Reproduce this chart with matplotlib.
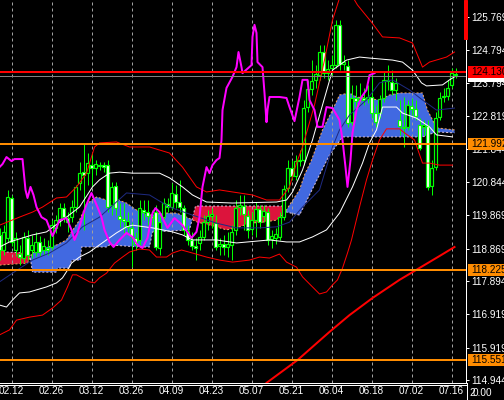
import numpy as np
import matplotlib
matplotlib.use('Agg')
import matplotlib.pyplot as plt
from matplotlib.patches import Rectangle
from matplotlib.lines import Line2D
from matplotlib.transforms import blended_transform_factory

plt.rcParams['font.family'] = ['Liberation Sans', 'DejaVu Sans']

# date labels (one every 10 daily bars)
date_pos = [3, 13, 23, 33, 43, 53, 63, 73, 83, 93, 103, 113]
date_labels = ['02.12', '02.26', '03.12', '03.26', '04.09', '04.23',
               '05.07', '05.21', '06.04', '06.18', '07.02', '07.16']

price_ticks = [125.769, 124.794, 123.794, 122.819, 121.844, 120.844,
               119.869, 118.869, 117.894, 116.919, 115.919, 114.944]

# daily candles
opens = [119.28, 118.83, 119.19, 120.38, 118.83, 118.71, 118.59, 119.19, 118.83, 118.77,
         119.07, 118.83, 118.89, 118.92, 119.49, 119.72, 120.08, 119.78, 119.81, 120.11,
         120.83, 121.15, 121.12, 121.36, 121.27, 121.33, 121.36, 121.36, 120.17, 120.74,
         119.84, 119.75, 119.52, 119.49, 119.19, 119.13, 120.02, 119.96, 119.84, 119.96,
         118.89, 119.81, 120.20, 120.11, 120.50, 120.26, 120.08, 119.40, 119.13, 118.95,
         119.04, 119.22, 119.66, 119.84, 119.63, 118.95, 119.01, 118.92, 118.98, 119.43,
         120.11, 120.14, 119.84, 119.46, 119.72, 120.05, 119.84, 119.96, 119.16, 119.19,
         119.22, 119.81, 120.68, 121.27, 121.04, 121.48, 121.51, 123.09, 123.63, 123.90,
         124.04, 124.73, 124.10, 124.25, 124.34, 125.54, 124.37, 124.31, 122.64, 123.36,
         123.30, 123.36, 123.33, 123.39, 122.91, 122.91, 123.36, 123.87, 123.84, 123.60,
         122.70, 122.50, 122.50, 123.12, 123.03, 122.55, 122.50, 122.52, 120.74, 121.30,
         122.79, 123.39, 123.42, 123.75, 124.04]
highs = [119.49, 119.57, 120.62, 120.47, 119.37, 118.98, 119.37, 119.43, 119.28, 119.37,
         119.25, 119.19, 119.13, 119.72, 119.87, 120.23, 120.23, 119.96, 120.32, 120.77,
         121.45, 122.02, 121.72, 121.72, 121.51, 121.45, 121.45, 121.51, 120.86, 120.86,
         120.23, 120.23, 119.96, 119.66, 119.37, 120.32, 120.32, 120.32, 120.02, 120.17,
         119.87, 120.38, 120.38, 120.83, 120.77, 120.92, 120.17, 119.57, 119.37, 119.19,
         119.43, 119.87, 120.02, 120.08, 119.87, 119.19, 119.28, 119.37, 119.57, 120.32,
         120.47, 120.47, 120.02, 119.96, 120.26, 120.17, 120.17, 120.08, 119.43, 119.49,
         119.96, 120.77, 121.51, 121.51, 121.66, 121.81, 123.30, 123.90, 124.49, 124.34,
         124.94, 124.94, 124.49, 124.64, 125.68, 125.68, 124.64, 124.49, 123.75, 123.75,
         123.81, 123.66, 123.75, 124.13, 123.15, 123.45, 124.13, 124.34, 124.19, 123.96,
         123.30, 123.39, 123.30, 123.36, 123.30, 122.76, 122.70, 122.70, 121.51, 122.94,
         123.54, 123.66, 123.90, 124.25, 124.25]
lows = [118.53, 118.68, 119.07, 118.95, 118.65, 118.38, 118.47, 118.53, 118.59, 118.65,
        118.65, 118.68, 118.68, 118.83, 119.34, 119.55, 119.66, 119.37, 119.66, 119.96,
        120.62, 119.43, 120.77, 120.71, 121.07, 121.21, 121.15, 119.96, 119.87, 119.87,
        119.52, 119.34, 119.37, 118.32, 118.83, 118.98, 119.72, 119.57, 119.57, 118.83,
        118.68, 119.66, 119.96, 120.02, 120.08, 119.96, 119.28, 118.98, 118.83, 118.53,
        118.83, 119.13, 119.43, 119.49, 118.83, 118.68, 118.68, 118.62, 118.53, 119.28,
        119.87, 119.43, 119.19, 119.28, 119.22, 119.49, 119.66, 118.98, 118.89, 119.01,
        119.13, 119.72, 120.56, 120.92, 120.92, 121.33, 121.36, 122.94, 123.45, 123.66,
        123.90, 123.96, 123.90, 124.04, 124.25, 124.19, 124.19, 122.50, 122.55, 123.06,
        123.21, 123.15, 123.21, 122.76, 122.50, 122.76, 123.24, 123.60, 123.45, 123.30,
        122.26, 121.90, 122.41, 122.85, 122.70, 121.81, 122.26, 120.62, 120.47, 121.21,
        122.70, 123.24, 123.30, 123.66, 123.96]
closes = [118.83, 119.37, 120.41, 119.07, 119.19, 118.62, 119.22, 118.68, 118.98, 119.07,
          118.77, 118.95, 118.83, 119.57, 119.72, 120.08, 119.81, 119.66, 120.11, 120.71,
          121.12, 121.07, 121.42, 121.27, 121.39, 121.36, 121.30, 120.11, 120.71, 120.08,
          119.75, 119.69, 119.69, 119.22, 119.01, 120.08, 119.96, 119.84, 119.78, 118.92,
          119.66, 120.23, 120.11, 120.53, 120.26, 120.11, 119.43, 119.13, 118.95, 118.89,
          119.22, 119.66, 119.84, 119.90, 118.92, 119.01, 118.92, 119.01, 119.37, 120.08,
          120.17, 119.90, 119.43, 119.72, 120.05, 119.66, 119.99, 119.13, 119.25, 119.31,
          119.81, 120.65, 121.27, 121.04, 121.48, 121.51, 123.06, 123.63, 123.87, 124.07,
          124.73, 124.10, 124.22, 124.34, 125.54, 124.37, 124.43, 122.61, 123.36, 123.27,
          123.36, 123.30, 123.39, 122.91, 122.64, 123.33, 123.90, 123.90, 123.60, 123.81,
          122.52, 122.47, 123.15, 123.03, 122.82, 121.87, 122.55, 120.71, 121.27, 122.76,
          123.36, 123.42, 123.66, 124.10, 124.05]

# bollinger bands (outer red, inner white, middle navy), read as vertices (bar, price)
bb_up_x = [0, 5, 8.25, 10.75, 14.25, 16.75, 19.25, 21.75, 23.75, 25, 29.25, 32.5, 37.5,
           42.5, 45.75, 49.25, 51.75, 55, 58.25, 63.25, 66.75, 70, 72.5, 74.25, 75.75,
           78.75, 81.25, 83.25, 85.5, 88, 89.5, 93, 95.75, 100, 103.25, 105.75, 107.5,
           111.75, 113.75]
bb_up = [119.57, 119.81, 119.96, 120.11, 120.38, 120.41, 120.71, 121.12, 121.90, 122.02,
         122.05, 121.90, 121.90, 121.72, 121.30, 120.71, 120.56, 120.62, 120.56, 120.47,
         120.32, 120.32, 120.71, 121.42, 121.90, 123.15, 124.49, 125.68, 126.52, 126.43,
         126.13, 125.62, 125.18, 125.15, 125.00, 124.28, 124.43, 124.58, 124.73]

bb_lo_x = [0, 2.5, 4.25, 7.5, 10.75, 13.25, 15.5, 17, 18.25, 19.25, 22.5, 23.75, 25,
           26.75, 28.75, 30.75, 32.5, 35, 37.5, 39.25, 41.75, 43.25, 45.5, 48.25, 51.75,
           55, 58.25, 62.5, 65, 67.5, 70, 71.75, 74.25, 75.75, 78.25, 80, 81.75, 83.25,
           84.5, 85.75, 87, 88, 90, 91.75, 93.25, 95, 96.75, 100, 101.25, 103.75, 105.75,
           107.5, 110, 113.25]
bb_lo = [116.30, 116.45, 116.74, 116.83, 116.89, 117.10, 117.34, 117.73, 118.09, 118.09,
         117.88, 117.85, 118.00, 118.14, 118.44, 118.62, 118.77, 118.86, 118.83, 118.62,
         118.62, 118.74, 118.83, 118.74, 118.62, 118.53, 118.47, 118.53, 118.62, 118.59,
         118.71, 118.47, 118.32, 118.03, 117.73, 117.52, 117.58, 117.79, 117.94, 118.29,
         118.74, 119.13, 120.11, 120.92, 121.51, 122.11, 122.44, 122.44, 122.32, 122.11,
         121.42, 121.42, 121.36, 121.36]

env_up_x = [0, 2.5, 8.25, 11.75, 16.75, 20, 23.25, 25, 27.5, 30, 33.25, 40, 42.5, 45.75,
            48.25, 51.75, 58.25, 69.25, 71.75, 73.25, 75.75, 78.25, 80.75, 83.25, 86.75,
            90, 92.5, 98.25, 100.75, 103.25, 105.5, 106.75, 110.75, 112.5, 113.75]
env_up = [118.92, 119.07, 119.28, 119.37, 119.81, 120.11, 120.71, 120.92, 121.12, 121.15,
          121.12, 121.12, 120.98, 120.71, 120.47, 120.26, 120.23, 120.26, 120.32, 120.56,
          121.21, 122.11, 123.15, 124.19, 124.49, 124.58, 124.55, 124.49, 124.43, 124.19,
          123.81, 123.72, 123.75, 123.90, 123.99]

env_lo_x = [0, 1.75, 3.25, 5, 7.5, 11.75, 14.25, 15.75, 17, 18, 20, 22.5, 24.25, 26.75,
            29.25, 31.75, 33.25, 38.25, 43.25, 45.75, 48.25, 54.25, 59.25, 67.5, 71.75, 75,
            78.25, 81.75, 85, 88.25, 90.75, 92.5, 94.25, 95.75, 99.25, 100.75, 104.25,
            107.5, 109.25, 113.25]
env_lo = [117.19, 117.13, 117.34, 117.55, 117.58, 117.73, 117.85, 118.00, 118.23, 118.44,
          118.62, 118.77, 118.92, 119.13, 119.34, 119.52, 119.57, 119.49, 119.37, 119.28,
          119.13, 119.13, 119.04, 119.13, 119.07, 119.07, 119.22, 119.43, 119.93, 120.71,
          121.42, 122.02, 122.41, 123.09, 123.09, 122.91, 122.76, 122.50, 122.26, 122.20]

mid_x = [0, 3.25, 8.25, 12.5, 16.75, 20.75, 25, 31.75, 37.5, 42.5, 48.25, 54.25, 59.25,
         65, 69.25, 72.5, 75.75, 80, 83.25, 85, 87.5, 91.75, 95, 98.25, 102.5, 105.75,
         109.25, 113.75]
mid = [117.88, 118.14, 118.53, 118.74, 119.04, 119.52, 119.81, 120.53, 120.47, 120.11,
       119.87, 119.63, 119.49, 119.49, 119.52, 119.66, 120.11, 120.62, 121.90, 122.41,
       122.85, 123.30, 123.81, 123.90, 123.60, 123.30, 123.00, 123.06]

# ichimoku spans
span_a_x = [0, 7, 8.25, 10.75, 14.25, 16.75, 18, 20, 21.75, 24.25, 26.75, 28.25, 31.75,
            34.25, 37.5, 40.75, 44.25, 46.75, 49.5, 54.25, 56.75, 59.25, 62.5, 65.75, 69.25,
            71.25, 72.5, 75, 76.25, 78, 80.75, 83.25, 85, 87.5, 89.25, 95, 97.5, 100,
            105.75, 107, 109.25, 113.75]
span_a = [118.38, 118.44, 118.74, 118.89, 118.98, 119.13, 119.37, 119.72, 120.20, 120.41,
          120.32, 120.38, 120.23, 120.02, 119.87, 119.93, 119.93, 119.81, 119.66, 119.52,
          119.43, 119.49, 119.63, 119.66, 119.72, 119.93, 120.17, 120.62, 121.07, 121.51,
          122.41, 123.00, 123.45, 123.51, 123.39, 123.30, 123.45, 123.51, 123.51, 123.00,
          122.47, 122.41]
span_b_x = [0, 1.25, 7.5, 8.25, 14.25, 14.5, 17.5, 18, 20.25, 20.5, 26.75, 27.5, 35, 37.5,
            38.25, 47.5, 49, 70.75, 71.75, 75, 77.5, 80, 82.5, 85.75, 105.75, 109.25, 113.75]
span_b = [119.28, 118.77, 118.74, 118.17, 118.17, 118.29, 118.29, 118.53, 118.53, 118.92,
          118.92, 118.98, 118.92, 118.92, 119.37, 119.43, 120.14, 120.14, 119.96, 119.87,
          120.47, 121.07, 121.66, 122.20, 122.20, 122.35, 122.32]

# magenta line
lag_x = [0, 0.75, 1.75, 3, 3.75, 5.75, 6.5, 7, 7.75, 8.5, 9.25, 10.5, 11.75, 12.5, 13.25,
         14, 15, 16.75, 18, 18.75, 19.5, 20.5, 21.25, 22, 23, 23.75, 24.5, 25.5, 26.25,
         27.5, 28.5, 30, 31.75, 33.25, 34.5, 35.75, 37, 38.25, 39, 40, 42, 43.75, 45.75,
         48, 49.25, 50, 50.75, 51.75, 52.5, 53.25, 54.25, 55, 55.5, 55.75, 56.75, 58.25,
         59.25, 59.75, 60.5, 60.75, 63, 63.25, 63.75, 64.25, 64.5, 65.75, 66.25, 66.75,
         67, 67.5, 70, 71.75, 72.5, 73.75, 75, 75.75, 77, 77.5, 78.75, 79.5, 80.75, 81.75,
         83.25, 85, 85.75, 86.5, 87, 87.75, 88.25, 89.25, 90.5, 91.75, 92.5, 93.75]
lag = [121.30, 121.39, 121.60, 121.48, 121.54, 121.54, 120.62, 120.38, 120.71, 120.47,
       120.11, 119.81, 119.72, 119.49, 119.25, 119.43, 119.72, 119.78, 119.43, 119.13,
       119.34, 119.72, 120.02, 120.26, 120.53, 120.32, 120.11, 119.81, 119.43, 119.07,
       118.92, 119.13, 119.34, 119.22, 118.98, 118.89, 119.19, 119.93, 120.08, 119.96,
       119.49, 119.78, 119.57, 119.19, 119.37, 119.81, 120.71, 121.30, 121.12, 121.36,
       121.51, 121.57, 122.11, 123.00, 123.66, 123.99, 124.28, 124.73, 124.28, 124.10,
       124.34, 125.18, 125.54, 125.30, 124.43, 124.28, 123.51, 122.64, 123.00, 123.39,
       123.39, 123.36, 123.09, 122.67, 123.39, 123.90, 123.90, 123.30, 123.00, 122.50,
       122.50, 123.09, 123.06, 122.70, 122.11, 121.30, 120.71, 121.51, 122.32, 123.00,
       123.39, 123.60, 124.04, 124.10]

# long moving average
ma_x = [65.5, 66.75, 74.5, 82.5, 87.5, 93.25, 100, 110, 113.75]
ma = [114.72, 114.87, 115.55, 116.39, 116.89, 117.40, 117.94, 118.65, 118.92]

# horizontal levels
red_level = 124.130
orange_levels = [121.992, 118.225, 115.551]
bid = 124.03

green = '#00ff00'

fig = plt.figure(figsize=(504 / 72, 400 / 72), dpi=72, facecolor='black')
ax = fig.add_axes([0, 17 / 400, 466 / 504, 383 / 400], facecolor='black')

# cloud
xs = np.linspace(0, 113.75, 3000)
a = np.interp(xs, span_a_x, span_a)
b = np.interp(xs, span_b_x, span_b)
ax.fill_between(xs, a, b, where=a >= b, interpolate=True, color='#4169e1', lw=0, zorder=1)
ax.fill_between(xs, a, b, where=a < b, interpolate=True, color='#dc143c', lw=0, zorder=1)
ax.plot(span_a_x, span_a, color='#f4a460', lw=1, ls=(0, (2, 2)), zorder=1.2)
ax.plot(span_b_x, span_b, color='#d8bfd8', lw=1, ls=(0, (2, 2)), zorder=1.2)

# candles
o = np.array(opens)
c = np.array(closes)
bars = np.arange(len(c))
ax.vlines(bars, lows, highs, color=green, lw=1, zorder=2)
body = np.maximum(np.abs(c - o), 0.02)
faces = np.where(c >= o, 'black', 'white')
ax.bar(bars, body, bottom=np.minimum(o, c), width=0.6, color=faces,
       edgecolor=green, linewidth=1.2, zorder=2.1)

# indicators
ax.plot(bb_up_x, bb_up, color='red', lw=1, zorder=3)
ax.plot(bb_lo_x, bb_lo, color='red', lw=1, zorder=3)
ax.plot(env_up_x, env_up, color='white', lw=1, zorder=3)
ax.plot(env_lo_x, env_lo, color='white', lw=1, zorder=3)
ax.plot(mid_x, mid, color='#1e2a80', lw=1, zorder=3)
ax.plot(ma_x, ma, color='red', lw=2, zorder=3)
ax.plot(lag_x, lag, color='#ff00ff', lw=2, zorder=4)

# levels
ax.axhline(bid, color='#808080', lw=1, zorder=4.5)
ax.axhline(red_level, color='red', lw=2, zorder=5)
for lv in orange_levels:
    ax.axhline(lv, color='#ff8c00', lw=2, zorder=5)

ax.set_xlim(0.125, 116.625)
ax.set_ylim(114.867, 126.28)

ax.set_xticks(date_pos)
ax.set_xticklabels(date_labels)
ax.tick_params(axis='x', length=0, pad=3, labelcolor='white', labelsize=10)
ax.yaxis.tick_right()
ax.set_yticks(price_ticks)
ax.set_yticklabels([f'{v:.3f}' for v in price_ticks])
ax.tick_params(axis='y', colors='white', length=3, width=1, pad=2, labelsize=10)
ax.grid(axis='x', color='#a0a0a0', ls=(0, (3, 3)), lw=1)

for s in ['left', 'top']:
    ax.spines[s].set_visible(False)
for s in ['right', 'bottom']:
    ax.spines[s].set_color('white')
    ax.spines[s].set_linewidth(1)

# price boxes on the right scale
trans = blended_transform_factory(ax.transAxes, ax.transData)


def price_box(price, face, text_color, show_text=True):
    ax.add_patch(Rectangle((468 / 466, price - 0.18), 0.2, 0.36, transform=trans,
                           facecolor=face, edgecolor='none', clip_on=False, zorder=6))
    if show_text:
        ax.text(471 / 466, price, f'{price:.3f}', transform=trans, color=text_color,
                fontsize=10, va='center', ha='left', clip_on=False, zorder=7)


price_box(bid, 'white', 'black', show_text=False)
price_box(red_level, 'red', 'black')
for lv in orange_levels:
    price_box(lv, '#ff8c00', 'black')

# window furniture
fig.add_artist(Rectangle((464 / 504, 361 / 400), 3 / 504, 39 / 400,
                         transform=fig.transFigure, color='red'))
fig.add_artist(Line2D([0, 467 / 504], [15 / 400, 15 / 400], color='white', lw=1,
                      transform=fig.transFigure))
fig.add_artist(Line2D([467 / 504, 467 / 504], [0, 17 / 400], color='white', lw=1,
                      transform=fig.transFigure))
fig.text(469 / 504, 7 / 400, '2', color='white', fontsize=10, va='center')
fig.text(473 / 504, 7 / 400, '0.00', color='white', fontsize=10, va='center')

fig.savefig('out.png', dpi=72, facecolor='black')
